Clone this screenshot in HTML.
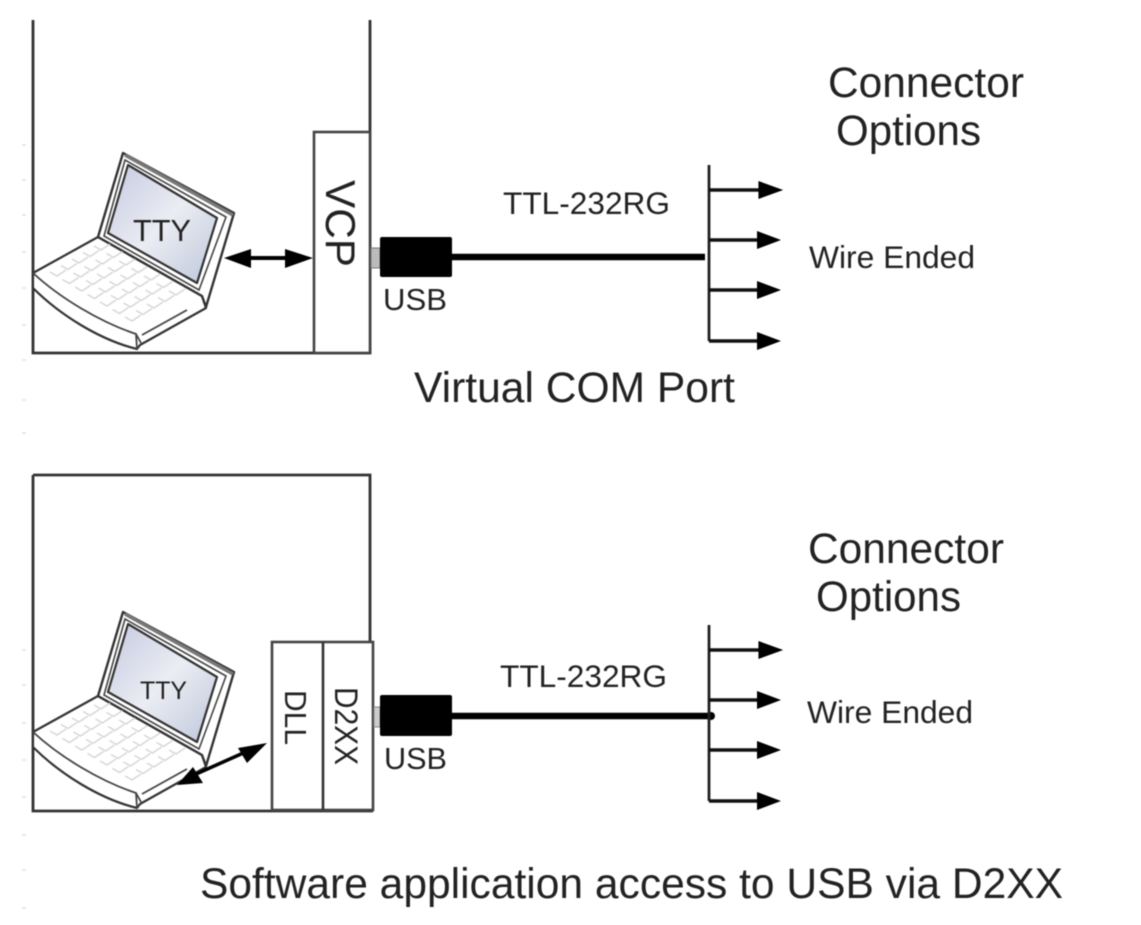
<!DOCTYPE html>
<html><head><meta charset="utf-8"><style>
html,body{margin:0;padding:0;background:#fff;width:1141px;height:925px;overflow:hidden}
svg{display:block;filter:blur(.6px)}
text{font-family:"Liberation Sans",Arial,sans-serif;fill:#222}
</style></head><body>
<svg width="1141" height="925" viewBox="0 0 1141 925" xmlns="http://www.w3.org/2000/svg">
<defs>
<linearGradient id="scr" x1="0" y1="0" x2="1" y2="1"><stop offset="0" stop-color="#c4c9e0"/><stop offset=".5" stop-color="#ebedf3"/><stop offset="1" stop-color="#bcc6da"/></linearGradient>
<g id="laptop">
<path d="M33 273 L98 237 L202 296 L206 308 L140 345 L137 349 C100 340 60 315 33 288 Z" fill="#fff" stroke="#333" stroke-width="2.2" stroke-linejoin="round"/>
<path d="M33 273 C60 298 100 322 136 334 L137 349 M136 334 L141 343 M142 335 L187 310" fill="none" stroke="#444" stroke-width="1.8"/>
<path d="M98 237 L123 153 L234 213 L206 307 L202 296 Z" fill="#fff" stroke="#333" stroke-width="2.4" stroke-linejoin="round"/>
<path d="M125 155 L233 215" stroke="#777" stroke-width="3.5" fill="none"/>
<path d="M104 236 L125 160 L226 217 L199 290 Z" fill="#fff" stroke="#444" stroke-width="1.6"/>
<path d="M128 165 L217 218 L197 283 L108 233 Z" fill="url(#scr)" stroke="#333" stroke-width="2.2" stroke-linejoin="round"/>
<path fill="none" stroke="#d6d6d6" stroke-width="1.4" d="M50 272l7 4 9-6M62.500 279.500l7 4 9-6M75 287l7 4 9-6M87.500 294.500l7 4 9-6M100 302l7 4 9-6M112.500 309.500l7 4 9-6M125 317l7 4 9-6M61 265.500l7 4 9-6M73.500 273l7 4 9-6M86 280.500l7 4 9-6M98.500 288l7 4 9-6M111 295.500l7 4 9-6M123.500 303l7 4 9-6M136 310.500l7 4 9-6M72 259l7 4 9-6M84.500 266.500l7 4 9-6M97 274l7 4 9-6M109.500 281.500l7 4 9-6M122 289l7 4 9-6M134.500 296.500l7 4 9-6M147 304l7 4 9-6M83 252.500l7 4 9-6M95.500 260l7 4 9-6M108 267.500l7 4 9-6M120.500 275l7 4 9-6M133 282.500l7 4 9-6M145.500 290l7 4 9-6M158 297.500l7 4 9-6M94 246l7 4 9-6M106.500 253.500l7 4 9-6M119 261l7 4 9-6M131.500 268.500l7 4 9-6M144 276l7 4 9-6M156.500 283.500l7 4 9-6M169 291l7 4 9-6"/>
</g>
<g id="arr"><path d="M0 0H50" stroke="#111" stroke-width="3.4" fill="none"/><path d="M48 -9L72 0L48 9Z" fill="#000"/></g>
</defs>

<!-- top -->
<path d="M33 20V353H370V20" fill="none" stroke="#333" stroke-width="2.8"/>
<rect x="314" y="132" width="56" height="221" fill="#fff" stroke="#444" stroke-width="2.6"/>
<use href="#laptop"/>
<text x="133" y="241" font-size="31" textLength="58" lengthAdjust="spacingAndGlyphs">TTY</text>
<path d="M230 258H305" stroke="#000" stroke-width="4"/>
<path d="M224 258L251 249V268ZM313 258L285 249V268Z" fill="#000"/>
<text transform="translate(326,180) rotate(90)" font-size="42" textLength="87" lengthAdjust="spacingAndGlyphs">VCP</text>
<rect x="371" y="248" width="9" height="20" fill="#bbb" stroke="#777"/>
<rect x="380" y="237" width="72" height="40" rx="2" fill="#000"/>
<path d="M452 257H705" stroke="#000" stroke-width="6.500"/>
<text x="383" y="310" font-size="31" textLength="64" lengthAdjust="spacingAndGlyphs">USB</text>
<text x="503" y="214" font-size="31.500" textLength="167" lengthAdjust="spacingAndGlyphs">TTL-232RG</text>
<path d="M709 165V341" stroke="#222" stroke-width="2.800" fill="none"/>
<use href="#arr" transform="translate(709,190) scale(1.03,1)"/>
<use href="#arr" transform="translate(709,240)"/>
<use href="#arr" transform="translate(709,290)"/>
<use href="#arr" transform="translate(709,341)"/>
<text x="828" y="97" font-size="42.500" textLength="196" lengthAdjust="spacingAndGlyphs">Connector</text>
<text x="836" y="145" font-size="42.500" textLength="145" lengthAdjust="spacingAndGlyphs">Options</text>
<text x="809" y="268" font-size="31.500" textLength="166" lengthAdjust="spacingAndGlyphs">Wire Ended</text>
<text x="414" y="402" font-size="42.500" textLength="321" lengthAdjust="spacingAndGlyphs">Virtual COM Port</text>

<!-- bottom -->
<path d="M33 475V811H373M370 642V475H33" fill="none" stroke="#333" stroke-width="2.8"/>
<rect x="272" y="642" width="101" height="168" fill="#fff" stroke="#444" stroke-width="2.6"/>
<path d="M323 642V810" stroke="#333" stroke-width="2.6"/>
<use href="#laptop" transform="translate(0,459)"/>
<text x="140" y="699" font-size="25" textLength="47" lengthAdjust="spacingAndGlyphs">TTY</text>
<path d="M185 779L250 750" stroke="#000" stroke-width="3.500"/>
<path d="M267 743L238 748L247 763ZM177 785L193 767L203 783Z" fill="#000"/>
<text transform="translate(285,690) rotate(90)" font-size="31" textLength="55" lengthAdjust="spacingAndGlyphs">DLL</text>
<text transform="translate(335,687) rotate(90)" font-size="32" textLength="78" lengthAdjust="spacingAndGlyphs">D2XX</text>
<rect x="374" y="707" width="6" height="20" fill="#ccc" stroke="#888"/>
<rect x="380" y="695" width="72" height="41" rx="2" fill="#000"/>
<path d="M452 716H712" stroke="#000" stroke-width="6.500"/>
<circle cx="711" cy="716" r="4" fill="#000"/>
<text x="384" y="769" font-size="31" textLength="63" lengthAdjust="spacingAndGlyphs">USB</text>
<text x="500" y="687" font-size="31.500" textLength="167" lengthAdjust="spacingAndGlyphs">TTL-232RG</text>
<path d="M709 625V801" stroke="#222" stroke-width="2.800" fill="none"/>
<use href="#arr" transform="translate(709,650) scale(1.03,1)"/>
<use href="#arr" transform="translate(709,700)"/>
<use href="#arr" transform="translate(709,750)"/>
<use href="#arr" transform="translate(709,801)"/>
<text x="808" y="563" font-size="42.500" textLength="196" lengthAdjust="spacingAndGlyphs">Connector</text>
<text x="816" y="611" font-size="42.500" textLength="145" lengthAdjust="spacingAndGlyphs">Options</text>
<text x="807" y="723" font-size="31.500" textLength="166" lengthAdjust="spacingAndGlyphs">Wire Ended</text>
<text x="200" y="898" font-size="42.500" textLength="863" lengthAdjust="spacingAndGlyphs">Software application access to USB via D2XX</text>

<!-- faint ticks -->
<path stroke="#e2e2e2" stroke-width="1.5" d="M22 145h4M22 180h4M22 215h4M22 252h4M22 288h4M22 325h4M22 360h4M22 400h4M22 433h4M22 650h4M22 685h4M22 723h4M22 760h4M22 797h4M22 835h4M22 870h4M22 908h4"/>
</svg>
</body></html>
